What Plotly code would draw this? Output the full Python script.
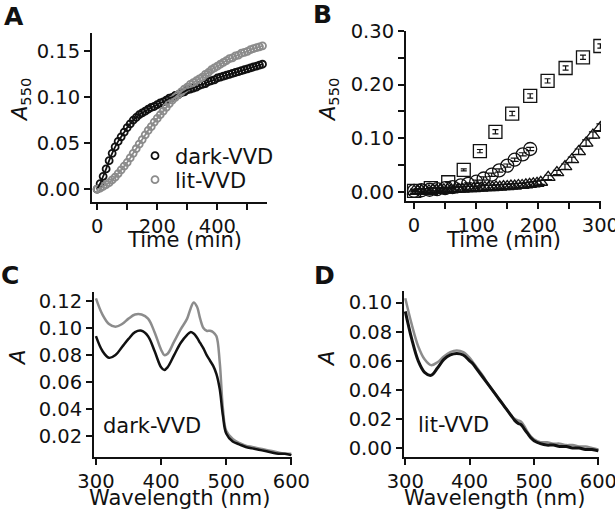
import plotly.graph_objects as go

# ---- panel A: A550 vs time ----
time_a = [0, 10, 20, 30, 40, 50, 60, 70, 80, 90, 100, 110, 120, 130, 140, 150, 160, 170, 180, 190,
          200, 210, 220, 230, 240, 250, 260, 270, 280, 290, 300, 310, 320, 330, 340, 350, 360, 370,
          380, 390, 400, 410, 420, 430, 440, 450, 460, 470, 480, 490, 500, 510, 520, 530, 540, 550]
dark_a = [0.000, 0.006, 0.014, 0.022, 0.031, 0.039, 0.046, 0.052, 0.057, 0.062, 0.067, 0.071, 0.075,
          0.078, 0.081, 0.083, 0.085, 0.087, 0.089, 0.090, 0.092, 0.094, 0.095, 0.097, 0.099, 0.100,
          0.102, 0.103, 0.105, 0.106, 0.108, 0.109, 0.110, 0.111, 0.113, 0.114, 0.115, 0.117, 0.118,
          0.119, 0.121, 0.122, 0.123, 0.124, 0.125, 0.126, 0.127, 0.128, 0.129, 0.130, 0.131, 0.132,
          0.133, 0.134, 0.135, 0.136]
lit_a = [0.000, 0.001, 0.003, 0.005, 0.007, 0.010, 0.013, 0.017, 0.021, 0.025, 0.029, 0.034, 0.039,
         0.044, 0.049, 0.054, 0.059, 0.064, 0.068, 0.073, 0.077, 0.081, 0.085, 0.089, 0.093, 0.097,
         0.100, 0.103, 0.106, 0.109, 0.111, 0.114, 0.116, 0.118, 0.120, 0.122, 0.125, 0.127, 0.130,
         0.132, 0.134, 0.136, 0.138, 0.140, 0.142, 0.143, 0.145, 0.146, 0.148, 0.149, 0.150, 0.152,
         0.153, 0.154, 0.155, 0.156]

# ---- panel B ----
sq_t = [0, 27, 55, 80, 106, 131, 158, 187, 215, 244, 272, 300]
sq_v = [0.002, 0.007, 0.018, 0.041, 0.076, 0.112, 0.146, 0.179, 0.207, 0.231, 0.251, 0.272]
sq_err = [0.001, 0.001, 0.001, 0.002, 0.003, 0.004, 0.004, 0.004, 0.004, 0.004, 0.004, 0.004]

ci_t = [0, 12, 25, 37, 50, 62, 75, 87, 100, 112, 125, 137, 150, 162, 175, 187]
ci_v = [0.002, 0.003, 0.004, 0.005, 0.007, 0.009, 0.012, 0.015, 0.019, 0.025, 0.032, 0.040,
        0.049, 0.060, 0.070, 0.080]
ci_err = [0.002, 0.002, 0.002, 0.002, 0.002, 0.002, 0.002, 0.002, 0.003, 0.003, 0.003, 0.003,
          0.003, 0.003, 0.003, 0.003]

tr_t = [0, 6, 12, 18, 24, 30, 36, 42, 48, 54, 60, 66, 72, 78, 84, 90, 96, 102, 108, 114, 120,
        126, 132, 138, 144, 150, 156, 162, 168, 174, 180, 186, 192, 198, 204,
        216, 230, 243, 254, 265, 277, 288, 300]
tr_v = [0.001, 0.001, 0.002, 0.002, 0.002, 0.003, 0.003, 0.003, 0.004, 0.004, 0.004, 0.005,
        0.005, 0.005, 0.006, 0.006, 0.006, 0.007, 0.007, 0.008, 0.008, 0.008, 0.009, 0.009,
        0.010, 0.010, 0.011, 0.011, 0.012, 0.012, 0.013, 0.014, 0.015, 0.016, 0.018,
        0.027, 0.036, 0.047, 0.060, 0.075, 0.091, 0.106, 0.120]
tr_err = [0.004] * 35 + [0.004, 0.004, 0.005, 0.005, 0.005, 0.006, 0.006, 0.007]

# ---- panels C and D: spectra ----
wl = [300, 310, 320, 330, 340, 350, 360, 370, 380, 390, 400, 405, 410, 420, 430, 440, 445, 450,
      455, 460, 465, 470, 475, 480, 485, 490, 495, 500, 510, 520, 530, 540, 550, 560, 570, 580,
      590, 600]
c_lit = [0.122, 0.110, 0.103, 0.101, 0.103, 0.107, 0.110, 0.110, 0.107, 0.097, 0.084, 0.080,
         0.081, 0.090, 0.099, 0.107, 0.114, 0.119, 0.116, 0.107, 0.100, 0.098, 0.098, 0.097,
         0.094, 0.075, 0.040, 0.024, 0.018, 0.015, 0.013, 0.012, 0.011, 0.010, 0.009, 0.008,
         0.007, 0.007]
c_dark = [0.094, 0.083, 0.078, 0.080, 0.086, 0.092, 0.097, 0.098, 0.094, 0.083, 0.071, 0.069,
          0.071, 0.080, 0.089, 0.095, 0.097, 0.096, 0.093, 0.089, 0.085, 0.080, 0.076, 0.072,
          0.066, 0.055, 0.035, 0.022, 0.016, 0.014, 0.012, 0.011, 0.010, 0.009, 0.008, 0.007,
          0.007, 0.006]
d_lit = [0.103, 0.085, 0.070, 0.061, 0.057, 0.059, 0.063, 0.066, 0.067, 0.066, 0.062, 0.059,
         0.056, 0.050, 0.043, 0.037, 0.034, 0.031, 0.028, 0.025, 0.022, 0.020, 0.019, 0.018,
         0.015, 0.011, 0.008, 0.006, 0.004, 0.004, 0.003, 0.003, 0.002, 0.002, 0.001, 0.001,
         0.000, -0.001]
d_dark = [0.094, 0.075, 0.060, 0.052, 0.050, 0.055, 0.061, 0.064, 0.065, 0.064, 0.060, 0.058,
          0.055, 0.049, 0.043, 0.037, 0.034, 0.031, 0.028, 0.025, 0.022, 0.019, 0.017, 0.016,
          0.013, 0.010, 0.007, 0.005, 0.003, 0.002, 0.002, 0.001, 0.001, 0.000, 0.000, -0.001,
          -0.001, -0.002]

W, H = 615, 514
FONT = "DejaVu Sans, Arial, sans-serif"
BLACK = "#111111"
GRAY = "#8c8c8c"
TICK = 19.5
LABEL = 21


def px(x0, x1):
    return [x0 / W, x1 / W]


def py(y0, y1):
    # pixel rows (top, bottom) -> paper domain
    return [1 - y1 / H, 1 - y0 / H]


fig = go.Figure()

# panel A
fig.add_trace(go.Scatter(x=time_a, y=dark_a, mode="markers", name="dark-VVD", legend="legend",
                         marker=dict(symbol="circle-open", size=7, color=BLACK,
                                     line=dict(width=1.8, color=BLACK)),
                         xaxis="x", yaxis="y"))
fig.add_trace(go.Scatter(x=time_a, y=lit_a, mode="markers", name="lit-VVD", legend="legend2",
                         marker=dict(symbol="circle-open", size=7, color=GRAY,
                                     line=dict(width=1.8, color=GRAY)),
                         xaxis="x", yaxis="y"))
fig.add_trace(go.Scatter(x=time_a, y=dark_a, mode="lines", showlegend=False,
                         line=dict(color=BLACK, width=1.8, shape="spline"),
                         xaxis="x", yaxis="y"))
fig.add_trace(go.Scatter(x=time_a, y=lit_a, mode="lines", showlegend=False,
                         line=dict(color=GRAY, width=1.8, shape="spline"),
                         xaxis="x", yaxis="y"))

# panel B
fig.add_trace(go.Scatter(x=tr_t, y=tr_v, mode="markers", showlegend=False,
                         marker=dict(symbol="triangle-up-open", size=12, color=BLACK,
                                     line=dict(width=1.3, color=BLACK)),
                         error_y=dict(type="data", array=tr_err, color=BLACK, thickness=1.2, width=4),
                         xaxis="x2", yaxis="y2"))
fig.add_trace(go.Scatter(x=ci_t, y=ci_v, mode="markers", showlegend=False,
                         marker=dict(symbol="circle-open", size=13, color=BLACK,
                                     line=dict(width=1.3, color=BLACK)),
                         error_y=dict(type="data", array=ci_err, color=BLACK, thickness=1.2, width=4),
                         xaxis="x2", yaxis="y2"))
fig.add_trace(go.Scatter(x=sq_t, y=sq_v, mode="markers", showlegend=False,
                         marker=dict(symbol="square-open", size=13, color=BLACK,
                                     line=dict(width=1.3, color=BLACK)),
                         error_y=dict(type="data", array=sq_err, color=BLACK, thickness=1.2, width=3),
                         xaxis="x2", yaxis="y2"))

# panel C
fig.add_trace(go.Scatter(x=wl, y=c_lit, mode="lines", showlegend=False,
                         line=dict(color=GRAY, width=2.5, shape="spline"), xaxis="x3", yaxis="y3"))
fig.add_trace(go.Scatter(x=wl, y=c_dark, mode="lines", showlegend=False,
                         line=dict(color=BLACK, width=2.5, shape="spline"), xaxis="x3", yaxis="y3"))

# panel D
fig.add_trace(go.Scatter(x=wl, y=d_lit, mode="lines", showlegend=False,
                         line=dict(color=GRAY, width=2.5, shape="spline"), xaxis="x4", yaxis="y4"))
fig.add_trace(go.Scatter(x=wl, y=d_dark, mode="lines", showlegend=False,
                         line=dict(color=BLACK, width=3, shape="spline"), xaxis="x4", yaxis="y4"))

axis_common = dict(showline=True, linecolor=BLACK, linewidth=2, ticks="outside", ticklen=6,
                   tickwidth=2, tickcolor=BLACK, showgrid=False, zeroline=False, automargin=False,
                   ticklabeloverflow="allow",
                   tickfont=dict(size=TICK, color=BLACK, family=FONT))
minor_common = dict(ticks="outside", ticklen=6, tickwidth=2, tickcolor=BLACK)
legend_common = dict(xanchor="left", yanchor="middle", bgcolor="rgba(0,0,0,0)",
                     font=dict(size=LABEL, color=BLACK, family=FONT), itemsizing="trace")

fig.update_layout(
    width=W, height=H, margin=dict(l=0, r=0, t=0, b=0, autoexpand=False),
    paper_bgcolor="white", plot_bgcolor="white",
    font=dict(family=FONT, size=LABEL, color=BLACK),
    xaxis=dict(axis_common, domain=px(92, 267), range=[-17, 565], tickvals=[0, 200, 400],
               minor=dict(minor_common, dtick=100, tick0=0), anchor="y"),
    yaxis=dict(axis_common, domain=py(33, 202), range=[-0.014, 0.17],
               tickvals=[0, 0.05, 0.10, 0.15], tickformat=".2f", anchor="x"),
    xaxis2=dict(axis_common, domain=px(406, 601), range=[-13, 301], tickvals=[0, 100, 200, 300],
                minor=dict(minor_common, dtick=50, tick0=0), anchor="y2"),
    yaxis2=dict(axis_common, domain=py(31, 201), range=[-0.017, 0.30],
                tickvals=[0, 0.10, 0.20, 0.30], tickformat=".2f",
                minor=dict(minor_common, dtick=0.05, tick0=0), anchor="x2"),
    xaxis3=dict(axis_common, domain=px(94, 292), range=[297, 601], tickvals=[300, 400, 500, 600],
                anchor="y3"),
    yaxis3=dict(axis_common, domain=py(292, 457), range=[0.0046, 0.1267],
                tickvals=[0.02, 0.04, 0.06, 0.08, 0.10, 0.12], tickformat=".2f", anchor="x3"),
    xaxis4=dict(axis_common, domain=px(404, 599), range=[298, 601], tickvals=[300, 400, 500, 600],
                anchor="y4"),
    yaxis4=dict(axis_common, domain=py(291, 457), range=[-0.0062, 0.108],
                tickvals=[0, 0.02, 0.04, 0.06, 0.08, 0.10], tickformat=".2f", anchor="x4"),
    legend=dict(legend_common, x=135 / W, y=1 - 156 / H),
    legend2=dict(legend_common, x=135 / W, y=1 - 180 / H),
)


def note(text, x, y, size=LABEL, angle=0, bold=False):
    fig.add_annotation(text=f"<b>{text}</b>" if bold else text, x=x / W, y=1 - y / H,
                       xref="paper", yref="paper", showarrow=False, textangle=angle,
                       xanchor="center", yanchor="middle",
                       font=dict(size=size, color=BLACK, family=FONT))


# panel letters
note("A", 14, 17, size=25, bold=True)
note("B", 323, 14, size=25, bold=True)
note("C", 10, 275, size=25, bold=True)
note("D", 324, 275, size=25, bold=True)

# axis titles
note("<i>A</i><sub>550</sub>", 21, 100, angle=-90)
note("<i>A</i><sub>550</sub>", 329, 100, angle=-90)
note("<i>A</i>", 18, 358, angle=-90)
note("<i>A</i>", 327, 359, angle=-90)
note("Time (min)", 184, 240)
note("Time (min)", 503, 240)
note("Wavelength (nm)", 179, 498)
note("Wavelength (nm)", 494, 498)

# in-panel labels
note("dark-VVD", 152, 426)
note("lit-VVD", 453, 425)

# plotly's page keeps the browser's default 8px body margin; drop it
fig.write_html("out.html", config={"displayModeBar": False},
               post_script="document.body.style.margin='0';")
